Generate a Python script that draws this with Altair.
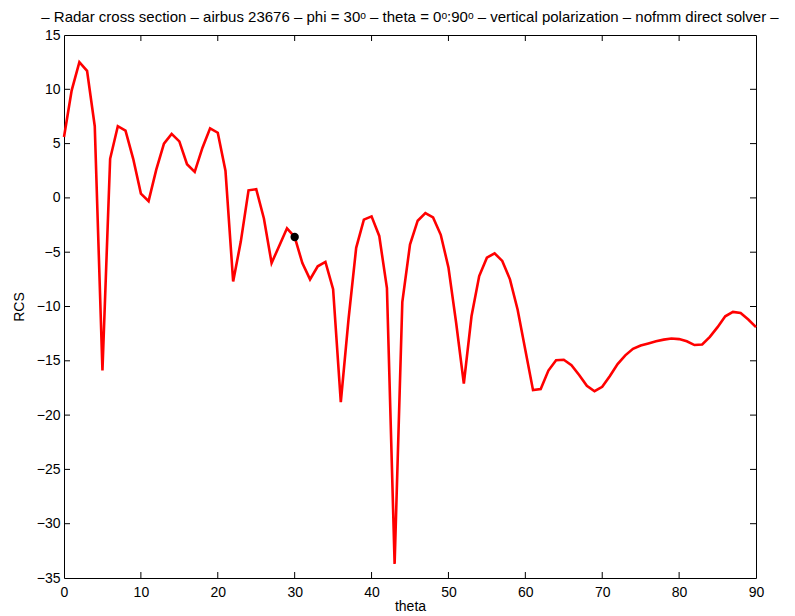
import altair as alt
import pandas as pd

theta = list(range(91))
rcs = [5.6, 9.9, 12.5, 11.7, 6.6, -15.9, 3.6, 6.6, 6.2, 3.6,
       0.4, -0.3, 2.6, 5.0, 5.9, 5.2, 3.1, 2.4, 4.6, 6.4,
       6.0, 2.5, -7.7, -4.0, 0.7, 0.8, -1.9, -6.0, -4.4, -2.8,
       -3.6, -6.0, -7.5, -6.3, -5.9, -8.4, -18.8, -11.2, -4.6, -2.0,
       -1.7, -3.5, -8.3, -33.7, -9.6, -4.3, -2.1, -1.4, -1.8, -3.4,
       -6.4, -11.5, -17.1, -10.9, -7.2, -5.5, -5.1, -5.8, -7.5, -10.3,
       -14.0, -17.7, -17.6, -15.9, -14.95, -14.9, -15.4, -16.3, -17.3, -17.8,
       -17.4, -16.4, -15.3, -14.5, -13.9, -13.6, -13.4, -13.2, -13.05, -12.95,
       -13.0, -13.2, -13.55, -13.5, -12.8, -11.9, -10.9, -10.5, -10.6, -11.2,
       -11.9]
marker_theta = [30]
marker_rcs = [-3.6]
x_ticks = [0, 10, 20, 30, 40, 50, 60, 70, 80, 90]
y_ticks = [-35, -30, -25, -20, -15, -10, -5, 0, 5, 10, 15]
title_text = "\u2013 Radar cross section \u2013 airbus 23676 \u2013 phi = 30\u1d52 \u2013 theta = 0\u1d52:90\u1d52 \u2013 vertical polarization \u2013 nofmm direct solver \u2013"

W, H = 692, 543
FONT = "Liberation Sans"

df = pd.DataFrame({"theta": theta, "RCS": rcs})
mk = pd.DataFrame({"theta": marker_theta, "RCS": marker_rcs})
xt = pd.DataFrame({"v": x_ticks[1:-1]})
yt = pd.DataFrame({"v": y_ticks[1:-1]})

xs = alt.Scale(domain=[0, 90], nice=False, zero=False)
ys = alt.Scale(domain=[-35, 15], nice=False, zero=False)

line = alt.Chart(df).mark_line(color="#ff0000", strokeWidth=2.6).encode(
    x=alt.X("theta:Q", scale=xs, title="theta",
            axis=alt.Axis(values=x_ticks, grid=False, domain=False, ticks=False,
                          labelFlush=False, labelOverlap=False,
                          labelPadding=7, titlePadding=0, labelFontSize=14,
                          titleFontSize=14, labelFont=FONT, titleFont=FONT,
                          titleFontWeight="normal", labelColor="black", titleColor="black")),
    y=alt.Y("RCS:Q", scale=ys, title="RCS",
            axis=alt.Axis(values=y_ticks, grid=False, domain=False, ticks=False,
                          labelFlush=False, labelOverlap=False,
                          labelPadding=4, titlePadding=10, labelFontSize=14,
                          titleFontSize=14, labelFont=FONT, titleFont=FONT,
                          titleFontWeight="normal", labelColor="black", titleColor="black")),
)

dot = alt.Chart(mk).mark_circle(color="black", size=70, opacity=1).encode(
    x=alt.X("theta:Q", scale=xs), y=alt.Y("RCS:Q", scale=ys))

tb = alt.Chart(xt).mark_rule(color="black", strokeWidth=1).encode(
    x=alt.X("v:Q", scale=xs), y=alt.value(H), y2=alt.value(H - 6))
tt = alt.Chart(xt).mark_rule(color="black", strokeWidth=1).encode(
    x=alt.X("v:Q", scale=xs), y=alt.value(0), y2=alt.value(6))
tl = alt.Chart(yt).mark_rule(color="black", strokeWidth=1).encode(
    y=alt.Y("v:Q", scale=ys), x=alt.value(0), x2=alt.value(6))
tr = alt.Chart(yt).mark_rule(color="black", strokeWidth=1).encode(
    y=alt.Y("v:Q", scale=ys), x=alt.value(W), x2=alt.value(W - 6))

chart = alt.layer(line, tb, tt, tl, tr, dot).properties(
    width=W, height=H,
    title=alt.TitleParams(title_text, font=FONT, fontSize=15, fontWeight="normal",
                          anchor="middle", offset=3, color="black"),
    padding={"left": 56, "top": 27, "right": 30, "bottom": 40},
    autosize=alt.AutoSizeParams(type="none"),
).configure(background="white").configure_view(stroke="black", strokeWidth=1)

chart.save("out.html", embed_options={"renderer": "svg", "actions": False})
